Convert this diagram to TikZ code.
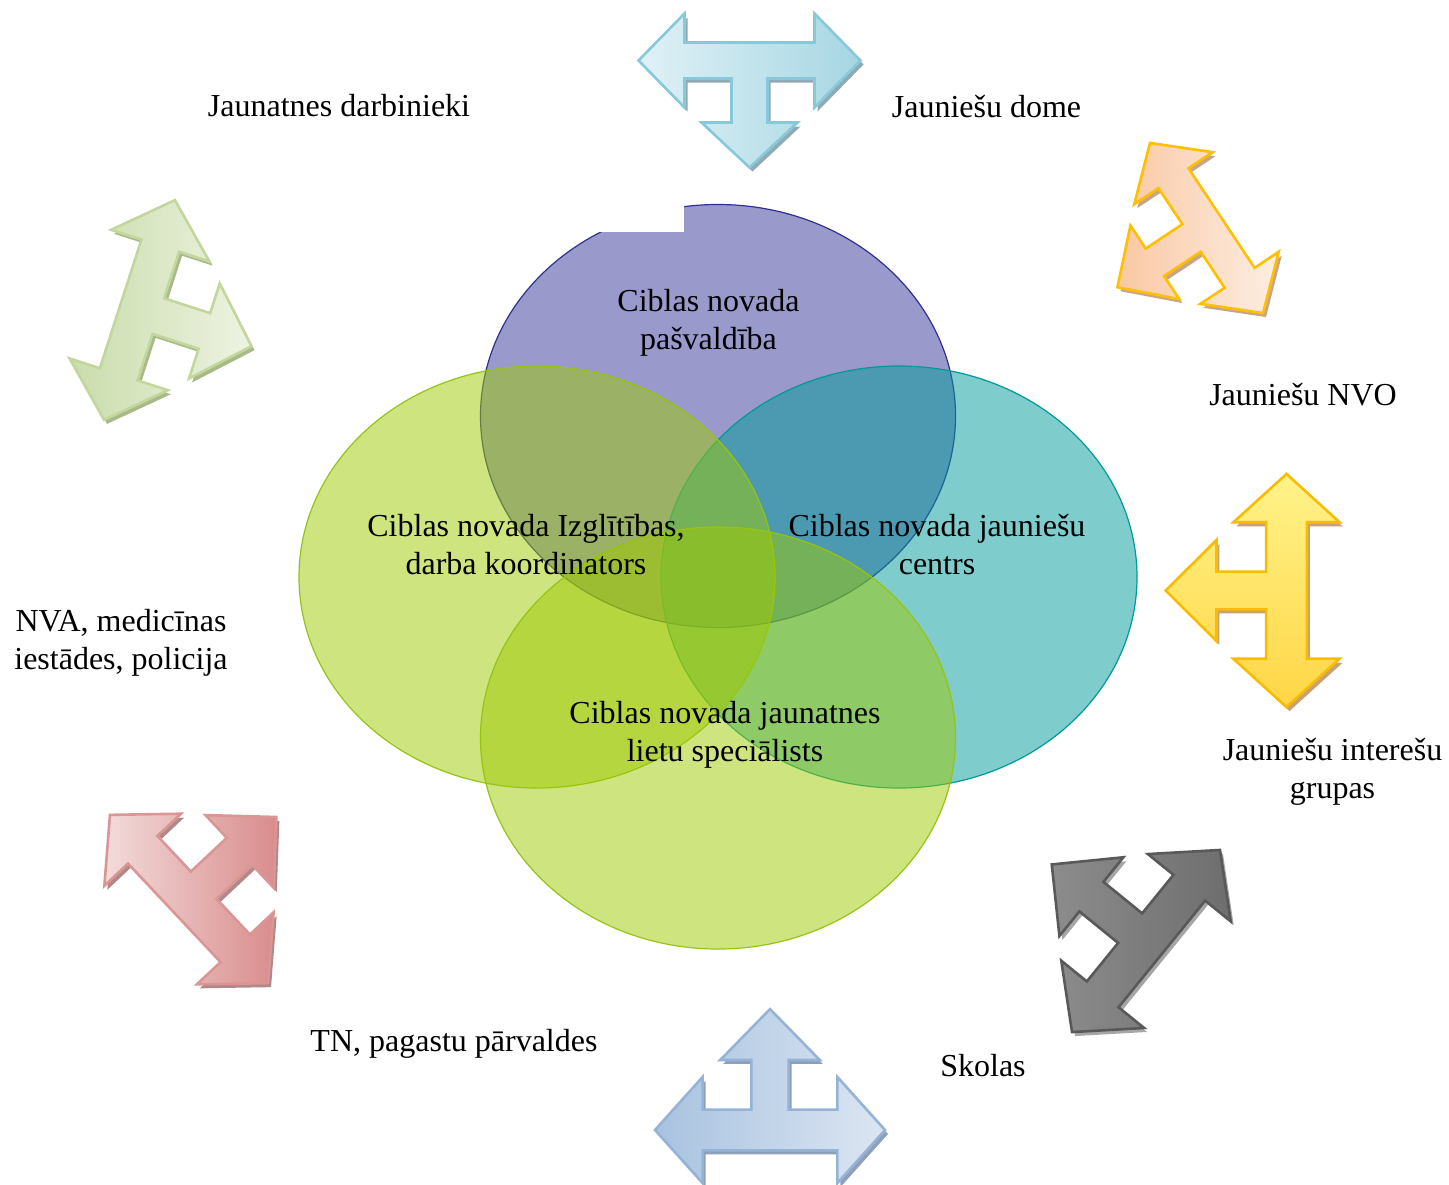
\documentclass[tikz,border=0pt]{standalone}
\usepackage{fontspec}
\setmainfont{Liberation Serif}

\definecolor{vpurple}{RGB}{153,153,204}
\definecolor{vpurpleline}{RGB}{46,49,146}
\definecolor{vteal}{RGB}{0,153,153}
\definecolor{vgreen}{RGB}{158,201,0}
\definecolor{vgreenline}{RGB}{150,195,20}

% T-shaped three way arrow, bar along x, stem along +y
\newcommand{\tshape}{(-111,0) -- (-65,-47) -- (-65,-18) -- (65,-18) -- (65,-47) -- (111,0)
  -- (65,47) -- (65,18) -- (18,18) -- (18,62) -- (48,62) -- (0,107) -- (-48,62) -- (-18,62)
  -- (-18,18) -- (-65,18) -- (-65,47) -- cycle}
% #1,#2 centre, #3 angle, #4,#5 scales, #6 style
\newcommand{\teearrow}[6]{%
  \fill[#6 shadow, shift={(#1+3,#2+4)}, rotate=#3, xscale=#4, yscale=#5] \tshape;
  \path[#6, shift={(#1,#2)}, rotate=#3, xscale=#4, yscale=#5] \tshape;}

\tikzset{
  lbl/.style={align=center, inner sep=0pt, font=\fontsize{16}{19}\selectfont},
  venn/.style={line width=0.6pt},
  arrowline/.style={line width=1.3pt, line join=miter},
  sky/.style={arrowline, draw={rgb,255:red,135;green,200;blue,218}, left color={rgb,255:red,224;green,241;blue,246}, right color={rgb,255:red,166;green,214;blue,227}},
  sky shadow/.style={fill={rgb,255:red,143;green,170;blue,179}},
  peach/.style={arrowline, draw={rgb,255:red,255;green,192;blue,0}, left color={rgb,255:red,249;green,200;blue,162}, right color={rgb,255:red,253;green,238;blue,228}},
  peach shadow/.style={fill={rgb,255:red,200;green,165;blue,138}},
  sage/.style={arrowline, draw={rgb,255:red,195;green,214;blue,155}, left color={rgb,255:red,202;green,220;blue,171}, right color={rgb,255:red,237;green,243;blue,226}},
  sage shadow/.style={fill={rgb,255:red,168;green,185;blue,138}},
  gold/.style={arrowline, draw={rgb,255:red,250;green,188;blue,0}, top color={rgb,255:red,255;green,243;blue,138}, middle color={rgb,255:red,255;green,196;blue,10}, bottom color={rgb,255:red,255;green,214;blue,70}},
  gold shadow/.style={fill={rgb,255:red,200;green,160;blue,120}},
  rose/.style={arrowline, draw={rgb,255:red,217;green,150;blue,148}, left color={rgb,255:red,242;green,220;blue,219}, right color={rgb,255:red,217;green,140;blue,140}},
  rose shadow/.style={fill={rgb,255:red,176;green,136;blue,136}},
  slate/.style={arrowline, draw={rgb,255:red,89;green,89;blue,89}, left color={rgb,255:red,140;green,140;blue,140}, middle color={rgb,255:red,214;green,214;blue,214}, right color={rgb,255:red,110;green,110;blue,110}},
  slate shadow/.style={fill={rgb,255:red,166;green,166;blue,166}},
  steel/.style={arrowline, draw={rgb,255:red,149;green,179;blue,215}, left color={rgb,255:red,168;green,194;blue,224}, right color={rgb,255:red,220;green,230;blue,242}},
  steel shadow/.style={fill={rgb,255:red,141;green,160;blue,184}},
}

\begin{document}
\begin{tikzpicture}[x=0.5pt, y=-0.5pt]
\useasboundingbox (0,0) rectangle (1449,1184);

% circles
\draw[venn, fill=vpurple, draw=vpurpleline] (718,416) ellipse (237.5 and 211.5);
\fill[white] (600,195) rectangle (684,232);
\draw[venn, fill=vteal, fill opacity=0.5, draw=vteal] (899,577) ellipse (238 and 211);
\draw[venn, fill=vgreen, fill opacity=0.5, draw=vgreenline] (537,577) ellipse (238 and 211);
\draw[venn, fill=vgreen, fill opacity=0.5, draw=vgreenline] (718,738) ellipse (237.5 and 211);

% arrows
\teearrow{749.5}{60.5}{0}{1}{1}{sky}
\teearrow{1206.5}{228}{-56.4}{0.92}{1}{peach}
\teearrow{139.5}{310}{72.1}{1.04}{1.1}{sage}
\teearrow{1286.5}{590.5}{-90}{1.05}{1.13}{gold}
\teearrow{189}{899}{133.2}{1.04}{1.12}{rose}
\teearrow{1146}{941}{-129.1}{1.057}{1.135}{slate}
\teearrow{770}{1130}{180}{1.036}{1.13}{steel}

% texts
\node[lbl] (pasv) at (708.5,323) {Ciblas novada\\pašvaldība};
\node[lbl] (izgl) at (526,545) {Ciblas novada Izglītības,\\darba koordinators};
\node[lbl] (centrs) at (937,545) {Ciblas novada jauniešu\\centrs};
\node[lbl] (spec) at (725,735) {Ciblas novada jaunatnes\\lietu speciālists};
\node[lbl] (darb) at (339,106) {Jaunatnes darbinieki};
\node[lbl] (dome) at (986.5,107) {Jauniešu dome};
\node[lbl] (nvo) at (1303,395) {Jauniešu NVO};
\node[lbl] (grupas) at (1332.5,772) {Jauniešu interešu\\grupas};
\node[lbl] (skolas) at (983,1066) {Skolas};
\node[lbl] (tn) at (454,1044) {TN, pagastu pārvaldes};
\node[lbl] (nva) at (121,643) {NVA, medicīnas\\iestādes, policija};
\end{tikzpicture}
\end{document}
